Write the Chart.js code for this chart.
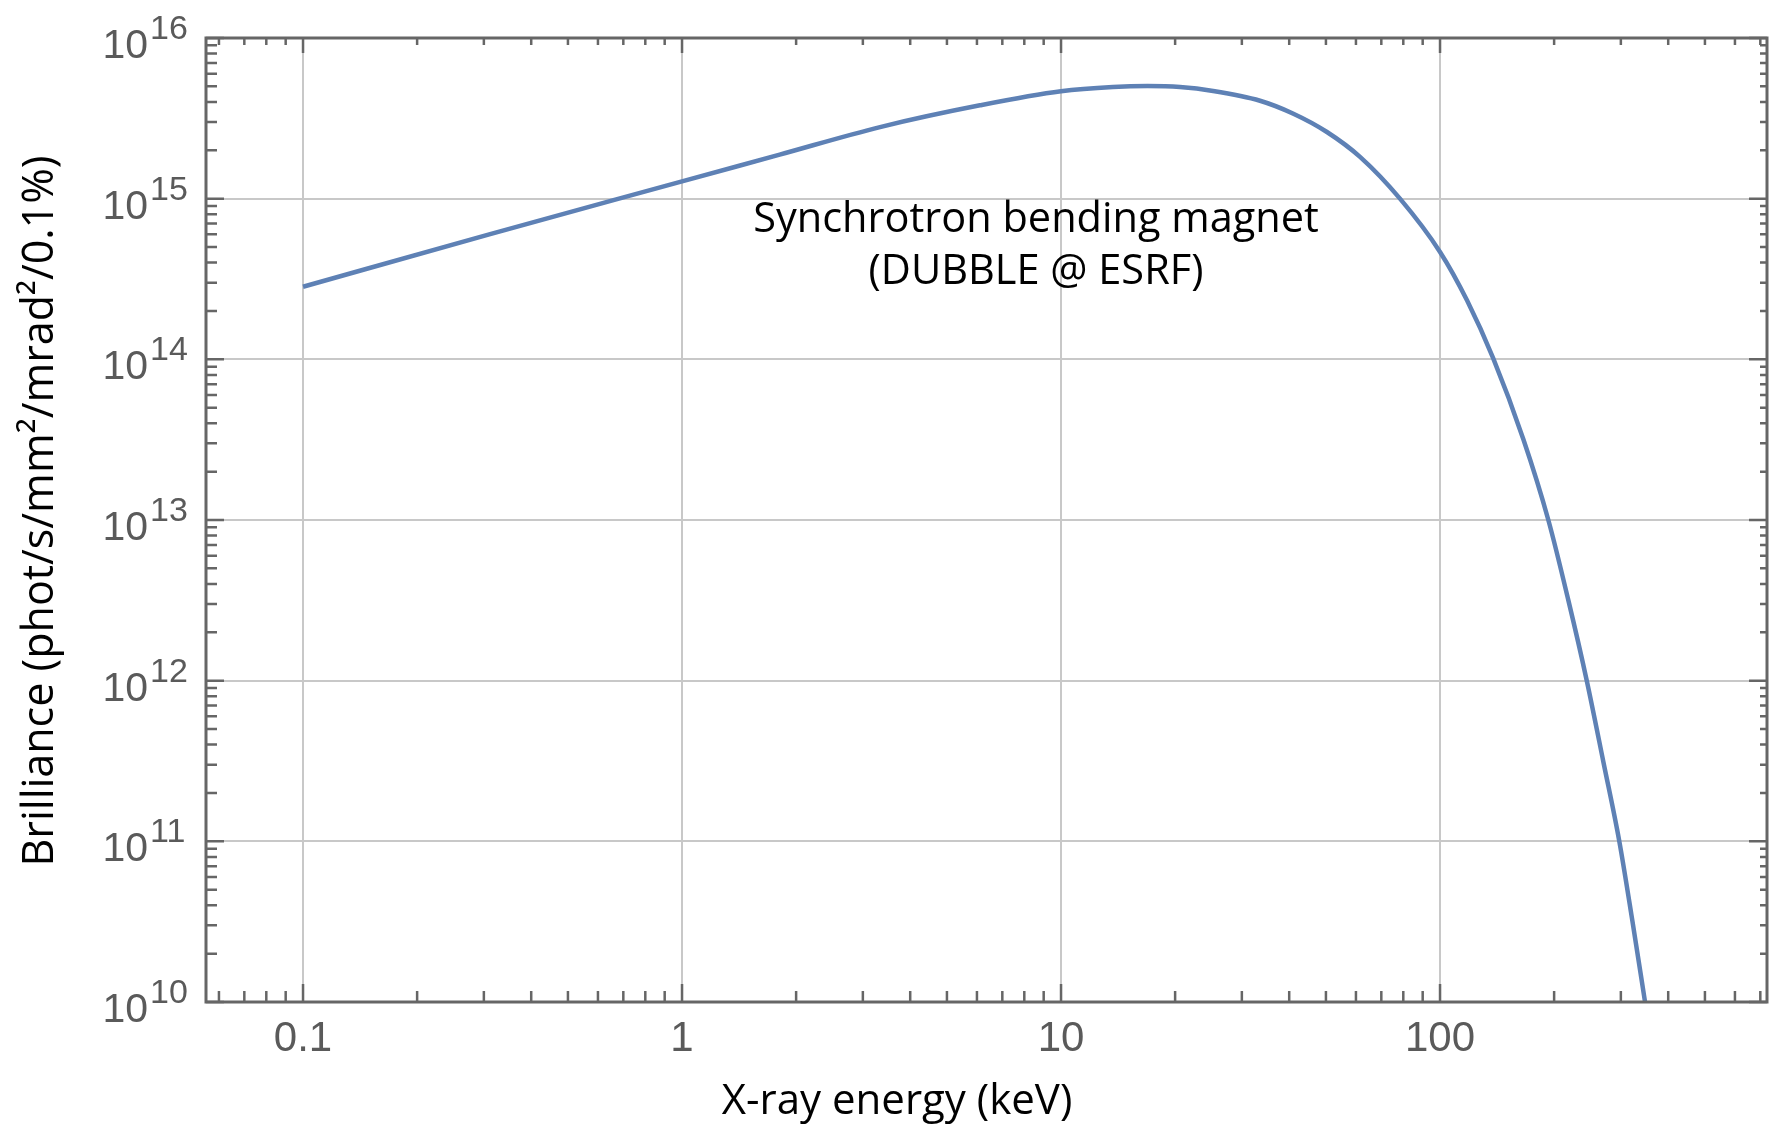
<!DOCTYPE html>
<html>
<head>
<meta charset="utf-8">
<title>Synchrotron bending magnet brilliance</title>
<script src="https://cdn.jsdelivr.net/npm/chart.js@4.4.1/dist/chart.umd.min.js"></script>
<style>
  html, body { margin: 0; padding: 0; background: #fff; }
  #wrap { width: 1781px; height: 1132px; }
</style>
</head>
<body>
<div id="wrap"><canvas id="brillianceChart"></canvas></div>
<script>
// X-ray energy (keV) and brilliance
const energy = [0.1, 0.31, 1, 1.81, 3.33, 6.11, 10, 13.7, 16.9, 20.6, 25.2, 33.5, 40.9, 50.3, 61.5, 78.4,
                100, 117.8, 138, 165.9, 193.1, 218.1, 243.9, 269.8, 297.2, 322, 347.5];
const brilliance = [2.83e14, 6.0e14, 1.28e15, 1.88e15, 2.79e15, 3.81e15, 4.66e15, 4.95e15, 5.02e15, 4.95e15, 4.68e15, 4.07e15, 3.39e15, 2.6e15, 1.82e15, 1.0e15,
                    4.66e14, 2.33e14, 1.02e14, 3.18e13, 1.0e13, 3.16e12, 1.0e12, 3.12e11, 1.0e11, 3.16e10, 1.0e10];

// axis ticks
const xMajor = [0.1, 1, 10, 100];
const xMajorLabels = ['0.1', '1', '10', '100'];
const yExponents = [10, 11, 12, 13, 14, 15, 16];
const xRange = [0.05546, 729];
const yRange = [1e10, 1e16];

const xTitle = 'X-ray energy (keV)';
const yTitle = 'Brilliance (phot/s/mm\u00B2/mrad\u00B2/0.1%)';
const noteLines = ['Synchrotron bending magnet', '(DUBBLE @ ESRF)'];

// minor ticks at 2..9 x 10^n inside a range
function minorTicks(lo, hi, fromExp, toExp) {
    const out = [];
    for (let e = fromExp; e <= toExp; e++) {
        for (let m = 2; m <= 9; m++) {
            const v = m * Math.pow(10, e);
            if (v > lo && v < hi) out.push(v);
        }
    }
    return out;
}
const xMinor = minorTicks(xRange[0], xRange[1], -2, 2);
const yMinor = minorTicks(yRange[0], yRange[1], 10, 15);
const yMajor = yExponents.map(e => Math.pow(10, e));

const frameAndText = {
    id: 'frameAndText',
    afterDraw(chart) {
        const { ctx, chartArea: a, scales: { x, y } } = chart;
        ctx.save();
        ctx.strokeStyle = '#666666';
        ctx.lineWidth = 2.5;
        ctx.beginPath();
        // bottom / top ticks
        xMinor.forEach(v => {
            const px = x.getPixelForValue(v);
            ctx.moveTo(px, a.bottom); ctx.lineTo(px, a.bottom - 11);
            ctx.moveTo(px, a.top); ctx.lineTo(px, a.top + 7);
        });
        xMajor.forEach(v => {
            const px = x.getPixelForValue(v);
            ctx.moveTo(px, a.bottom); ctx.lineTo(px, a.bottom - 18);
            ctx.moveTo(px, a.top); ctx.lineTo(px, a.top + 15);
        });
        // left / right ticks
        yMinor.forEach(v => {
            const py = y.getPixelForValue(v);
            ctx.moveTo(a.left, py); ctx.lineTo(a.left + 11, py);
            ctx.moveTo(a.right, py); ctx.lineTo(a.right - 7, py);
        });
        yMajor.forEach(v => {
            const py = y.getPixelForValue(v);
            ctx.moveTo(a.left, py); ctx.lineTo(a.left + 18, py);
            ctx.moveTo(a.right, py); ctx.lineTo(a.right - 18, py);
        });
        ctx.stroke();

        // frame
        ctx.lineWidth = 3;
        ctx.strokeRect(a.left, a.top, a.right - a.left, a.bottom - a.top);

        // tick labels
        ctx.fillStyle = '#5a5a5a';
        ctx.textBaseline = 'alphabetic';
        ctx.font = '42px "Liberation Sans", Arial, sans-serif';
        ctx.textAlign = 'center';
        xMajor.forEach((v, i) => {
            ctx.fillText(xMajorLabels[i], x.getPixelForValue(v), a.bottom + 49);
        });
        yExponents.forEach(e => {
            const py = y.getPixelForValue(Math.pow(10, e));
            ctx.font = '41px "Liberation Sans", Arial, sans-serif';
            ctx.textAlign = 'right';
            ctx.fillText('10', a.left - 58, py + 20);
            ctx.font = '34px "Liberation Sans", Arial, sans-serif';
            ctx.textAlign = 'left';
            ctx.fillText(String(e), a.left - 56, py + 1);
        });

        // axis titles
        ctx.fillStyle = '#000';
        ctx.font = '42px "Open Sans", sans-serif';
        ctx.textAlign = 'center';
        ctx.fillText(xTitle, 897, 1114);
        ctx.save();
        ctx.translate(53, 511);
        ctx.rotate(-Math.PI / 2);
        ctx.font = '43px "Open Sans", sans-serif';
        ctx.fillText(yTitle, 0, 0);
        ctx.restore();

        // annotation
        ctx.font = '41.5px "Open Sans", sans-serif';
        ctx.fillText(noteLines[0], 1036, 232);
        ctx.fillText(noteLines[1], 1036, 284);
        ctx.restore();
    }
};

new Chart(document.getElementById('brillianceChart'), {
    type: 'line',
    data: {
        datasets: [{
            data: energy.map((e, i) => ({ x: e, y: brilliance[i] })),
            borderColor: '#5e81b5',
            borderWidth: 4.5,
            pointRadius: 0,
            fill: false,
            cubicInterpolationMode: 'monotone'
        }]
    },
    options: {
        responsive: true,
        maintainAspectRatio: false,
        animation: false,
        layout: { padding: { top: 38, right: 14, left: 0, bottom: 0 } },
        plugins: { legend: { display: false }, tooltip: { enabled: false } },
        scales: {
            x: {
                type: 'logarithmic',
                min: xRange[0],
                max: xRange[1],
                afterBuildTicks: axis => { axis.ticks = xMajor.map(v => ({ value: v })); },
                afterFit: axis => { axis.height = 130; },
                ticks: { display: false },
                border: { display: false },
                grid: { color: '#c8c8c8', lineWidth: 2, drawTicks: false }
            },
            y: {
                type: 'logarithmic',
                min: yRange[0],
                max: yRange[1],
                afterBuildTicks: axis => { axis.ticks = yMajor.map(v => ({ value: v })); },
                afterFit: axis => { axis.width = 206; },
                ticks: { display: false },
                border: { display: false },
                grid: { color: '#c8c8c8', lineWidth: 2, drawTicks: false }
            }
        }
    },
    plugins: [frameAndText]
});
</script>
</body>
</html>
